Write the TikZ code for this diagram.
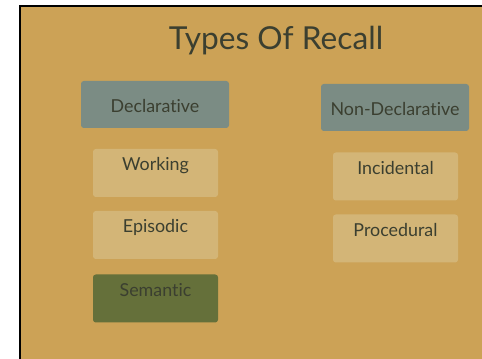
\documentclass[tikz,border=0pt]{standalone}
\usepackage{fontspec}
\setmainfont{Lato}[Ligatures=NoCommon]
\usepackage{tikz}
\usetikzlibrary{positioning}
\definecolor{panelgold}{HTML}{CCA256}
\definecolor{paletan}{HTML}{D3B577}
\definecolor{slateteal}{HTML}{7B8C84}
\definecolor{mossgreen}{HTML}{65703A}
\definecolor{inkdark}{HTML}{3B3F30}

\tikzset{
  headbox/.style={fill=slateteal, rounded corners=2pt, minimum width=148*0.025cm, minimum height=47*0.025cm,
    text=inkdark, font=\fontsize{12.7}{12.7}\selectfont, text height=12pt, text depth=0pt},
  subbox/.style={fill=paletan, rounded corners=2pt, minimum width=125*0.025cm, minimum height=48*0.025cm,
    text=inkdark, font=\fontsize{12.7}{12.7}\selectfont, text height=8pt, text depth=11pt},
}

\begin{document}
\begin{tikzpicture}[x=0.025cm, y=-0.025cm]
  \useasboundingbox (0,0) rectangle (482,359);

  % Slide background and frame
  \fill[panelgold] (20,6) rectangle (482,359);
  \draw[black, line width=1.8pt] (20,359) -- (20,6) -- (482,6);

  % Title
  \node[inkdark, font=\fontsize{22.5}{22.5}\selectfont, anchor=base] (title) at (276,50) {Types Of Recall};

  % Declarative column
  \node[headbox] (decl) at (155,104.5) {Declarative};
  \node[subbox] (working) at (155.5,173) {Working};
  \node[subbox] (episodic) at (155.5,235) {Episodic};
  \node[subbox, fill=mossgreen] (semantic) at (155.5,298.5) {Semantic};

  % Non-declarative column
  \node[headbox] (nondecl) at (395,107.5) {Non-Declarative};
  \node[subbox] (incidental) at (395.5,176.5) {Incidental};
  \node[subbox] (procedural) at (395.5,238.5) {Procedural};
\end{tikzpicture}
\end{document}
